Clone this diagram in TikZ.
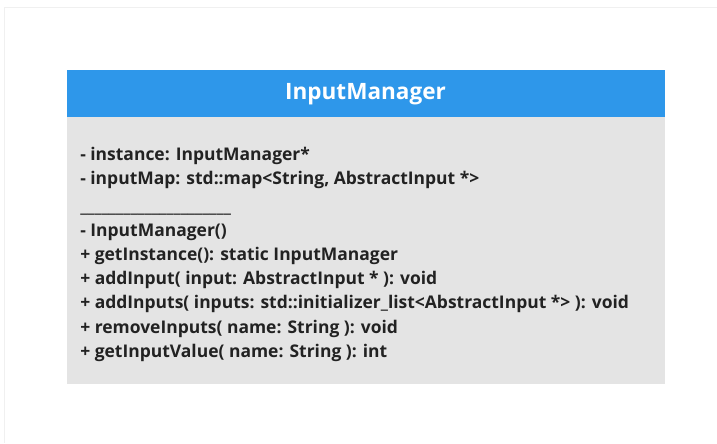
\documentclass[tikz,border=0pt]{standalone}
\usepackage{fontspec}
\setmainfont{Open Sans}
\definecolor{hdrblue}{HTML}{2E97EA}
\definecolor{bodygray}{HTML}{E4E4E4}
\definecolor{txt}{HTML}{222222}
\definecolor{frame}{HTML}{F0F0F0}
\begin{document}
\begin{tikzpicture}[x=0.75pt,y=-0.75pt,
  member/.style={anchor=base west,inner sep=0pt,text=txt,font=\fontsize{13.1}{15}\selectfont\bfseries}]
\useasboundingbox (0,0) rectangle (717,443);
\fill[white] (0,0) rectangle (717,443);
\draw[frame,line width=0.75pt] (4,443) -- (4,7) -- (717,7);
\fill[bodygray] (67,117) rectangle (665,384);
\fill[hdrblue] (67,70) rectangle (665,117);
\node[text=white,font=\fontsize{16.9}{18}\selectfont\bfseries,inner sep=0pt] (title) at (365.5,94) {InputManager};
\node[member] (a1) at (80,160.5) {- instance: InputManager*};
\node[member] (a2) at (80,184.5) {- inputMap: std::map<String, AbstractInput *>};
\node[member] (sep) at (80,212.5) {\_\_\_\_\_\_\_\_\_\_\_\_\_\_\_\_\_\_\_\_\_};
\node[member] (m1) at (80,236.5) {- InputManager()};
\node[member] (m2) at (80,260.5) {+ getInstance(): static InputManager};
\node[member] (m3) at (80,284.5) {+ addInput( input: AbstractInput * ): void};
\node[member] (m4) at (80,308.5) {+ addInputs( inputs: std::initializer\_list<AbstractInput *> ): void};
\node[member] (m5) at (80,333.5) {+ removeInputs( name: String ): void};
\node[member] (m6) at (80,357.5) {+ getInputValue( name: String ): int};
\end{tikzpicture}
\end{document}
